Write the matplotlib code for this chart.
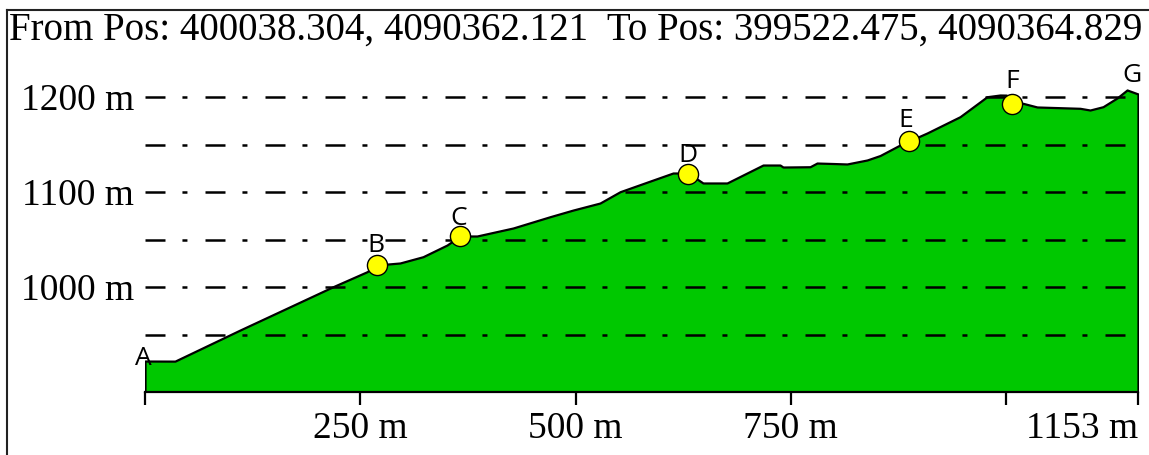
import matplotlib
matplotlib.use("Agg")
import matplotlib.pyplot as plt
from matplotlib.lines import Line2D

# ---------------- data ----------------
title = "From Pos: 400038.304, 4090362.121  To Pos: 399522.475, 4090364.829"

distance_m = [0, 34.8, 110.3, 218.3, 257.8, 269.4, 296.1, 322.8, 350.7, 365.8,
              385.5, 427.3, 470.3, 497.0, 528.3, 551.6, 589.9, 613.1, 630.5,
              647.9, 675.8, 699.0, 717.6, 737.3, 740.8, 772.2, 780.3, 798.9,
              815.1, 838.4, 853.5, 876.7, 887.1, 908.0, 946.4, 977.7, 992.8,
              1000.0, 1013.7, 1035.8, 1085.7, 1097.3, 1112.4, 1128.7, 1140.3, 1153.0]
elevation_m = [922.1, 922.0, 954.7, 1000.3, 1016.1, 1023.2, 1025.3, 1031.9, 1044.2, 1053.7,
               1053.7, 1062.1, 1074.0, 1081.0, 1088.4, 1100.3, 1112.6, 1120.0, 1120.0,
               1109.5, 1109.5, 1120.0, 1128.4, 1128.4, 1126.3, 1126.6, 1130.5, 1130.0,
               1129.5, 1133.7, 1138.4, 1149.5, 1153.7, 1162.1, 1179.3, 1200.3, 1202.1,
               1202.0, 1194.7, 1189.5, 1188.1, 1186.3, 1189.8, 1199.0, 1207.4, 1203.2]

waypoint_names = ["A", "B", "C", "D", "E", "F", "G"]
waypoint_dist = [0.0, 269.4, 365.8, 630.5, 887.1, 1006.7, 1140.3]
waypoint_elev = [922.1, 1023.2, 1053.7, 1119.0, 1153.7, 1192.6, 1207.4]
waypoint_marked = [False, True, True, True, True, True, False]

x_ticks = [0, 250, 500, 750, 1000, 1153]
x_tick_labels = ["", "250 m", "500 m", "750 m", "", "1153 m"]
y_ticks = [1000, 1100, 1200]
y_tick_labels = ["1000 m", "1100 m", "1200 m"]
grid_levels = [950, 1000, 1050, 1100, 1150, 1200]

# ---------------- figure ----------------
W, H = 1149, 455
fig = plt.figure(figsize=(W / 100, H / 100), dpi=100)
fig.patch.set_facecolor("white")

ax_left, ax_right, ax_top, ax_bottom = 145, 1138, 59, 392
ax = fig.add_axes([ax_left / W, (H - ax_bottom) / H,
                   (ax_right - ax_left) / W, (ax_bottom - ax_top) / H])
ax.set_xlim(0, 1153)
ax.set_ylim(889.5, 1240)
ax.patch.set_alpha(0)

base = ax.get_ylim()[0]
ax.fill_between(distance_m, elevation_m, base, facecolor="#00c800",
                edgecolor="black", linewidth=1.6, zorder=2)

lw = 1.8
dash = [14.4 / lw, 12.2 / lw, 3.6 / lw, 13.0 / lw]
for lv in grid_levels:
    ax.axhline(lv, color="black", linewidth=lw, dashes=dash, zorder=3)

mx = [d for d, m in zip(waypoint_dist, waypoint_marked) if m]
my = [e for e, m in zip(waypoint_elev, waypoint_marked) if m]
ax.plot(mx, my, "o", ms=14.5, mfc="#ffff00", mec="black", mew=1.0, zorder=5,
        clip_on=False)

offsets = {"A": (-2, -4), "B": (-1, 13), "C": (-1, 11), "D": (0, 12),
           "E": (-3, 14), "F": (0, 16), "G": (5, 8)}
for n, d, e in zip(waypoint_names, waypoint_dist, waypoint_elev):
    ax.annotate(n, (d, e), xytext=offsets[n], textcoords="offset pixels",
                ha="center", va="baseline", fontsize=19, family="Open Sans",
                color="black", zorder=6, annotation_clip=False)

for s in ("top", "right", "left"):
    ax.spines[s].set_visible(False)
ax.spines["bottom"].set_linewidth(1.6)
ax.spines["bottom"].set_zorder(4)

serif = "Liberation Serif"
ax.set_xticks(x_ticks)
ax.set_xticklabels(x_tick_labels, fontsize=27, family=serif)
ax.get_xticklabels()[-1].set_ha("right")
ax.tick_params(axis="x", direction="out", length=9, width=1.6, pad=5,
               color="black")
ax.set_yticks(y_ticks)
ax.set_yticklabels(y_tick_labels, fontsize=27, family=serif)
ax.tick_params(axis="y", length=0, pad=8)

fig.text(9 / W, 1 - 40 / H, title, fontsize=28, family=serif,
         ha="left", va="baseline")

# image frame
fig.add_artist(Line2D([7 / W, 7 / W], [0, 1 - 10 / H], transform=fig.transFigure,
                      color="#222222", linewidth=1.5))
fig.add_artist(Line2D([7 / W, 1], [1 - 10 / H, 1 - 10 / H], transform=fig.transFigure,
                      color="#222222", linewidth=1.5))

fig.savefig("out.png", dpi=100)
